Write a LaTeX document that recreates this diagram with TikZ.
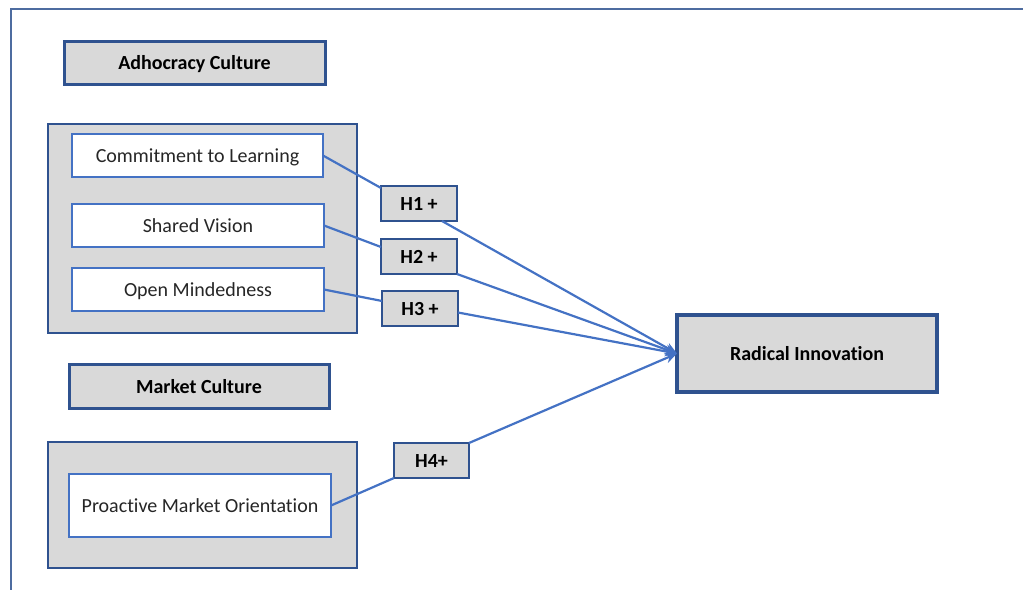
\documentclass[tikz,border=0pt]{standalone}
\usepackage{fontspec}
\setmainfont{Carlito}[Ligatures={NoCommon}]
\usetikzlibrary{arrows.meta,calc}
\definecolor{bdark}{RGB}{47,82,143}
\definecolor{bline}{RGB}{68,114,196}
\definecolor{gfill}{RGB}{217,217,217}
\definecolor{txt}{RGB}{38,38,38}
\tikzset{
  vtext/.style={text height=15pt,text depth=0.5pt},
  head/.style={vtext,draw=bdark,line width=3pt,fill=gfill,inner sep=0pt,outer sep=0pt,font=\fontsize{20}{24}\selectfont\bfseries,text=black},
  group/.style={draw=bdark,line width=2.6pt,fill=gfill,inner sep=0pt,outer sep=0pt},
  item/.style={vtext,draw=bline,line width=1.3pt,fill=white,inner sep=0pt,outer sep=0pt,font=\fontsize{20}{24}\selectfont,text=txt},
  hyp/.style={vtext,draw=bdark,line width=2.8pt,fill=gfill,inner sep=0pt,outer sep=0pt,font=\fontsize{20}{24}\selectfont\bfseries,text=black,minimum width=76pt,minimum height=35pt},
  conn/.style={draw=bline,line width=2.2pt},
  arr/.style={conn,-{Stealth[length=12pt,width=10pt]}}
}
\begin{document}
\begin{tikzpicture}[x=1pt,y=-1pt]
\useasboundingbox (0,0) rectangle (1023,590);
\draw[draw=bdark!85!white,line width=2pt] (1023,9) -- (11,9) -- (11,590);
% headers
\node[head,minimum width=261pt,minimum height=43pt] (adh) at (194.5,62.5) {Adhocracy Culture};
\node[head,minimum width=260pt,minimum height=44pt] (mc) at (199,386) {Market Culture};
% groups
\node[group,minimum width=309pt,minimum height=209pt] (g1) at (202.5,228.5) {};
\node[group,minimum width=309pt,minimum height=126pt] (g2) at (202.5,505) {};
% items
\node[item,minimum width=251pt,minimum height=43pt] (cl) at (197.5,155.5) {Commitment to Learning};
\node[item,minimum width=252pt,minimum height=43pt] (sv) at (198,225.5) {Shared Vision};
\node[item,minimum width=252pt,minimum height=43pt] (om) at (198,289.5) {Open Mindedness};
\node[item,minimum width=262pt,minimum height=63pt] (pmo) at (200,505.5) {Proactive Market Orientation};
% hypotheses
\node[hyp] (h1) at (419,203.5) {H1 +};
\node[hyp] (h2) at (419,256.5) {H2 +};
\node[hyp] (h3) at (420,308.5) {H3 +};
\node[hyp,minimum width=75pt] (h4) at (431.5,460.5) {H4+};
% outcome
\node[head,line width=3.2pt,minimum width=260pt,minimum height=77pt] (ri) at (807,353.5) {Radical Innovation};
% connectors
\draw[conn] (cl.east) -- ($(h1.north west)+(0,2)$);
\draw[conn] (sv.east) -- ($(h2.north west)+(0,8)$);
\draw[conn] (om.east) -- ($(h3.north west)+(0,10)$);
\draw[conn] (pmo.east) -- (h4.south west);
\draw[arr] ($(h1.south)+(23,0)$) -- (ri.west);
\draw[arr] (h2.south east) -- (ri.west);
\draw[arr] ($(h3.east)+(0,4)$) -- (ri.west);
\draw[arr] (h4.north east) -- (ri.west);
\end{tikzpicture}
\end{document}
